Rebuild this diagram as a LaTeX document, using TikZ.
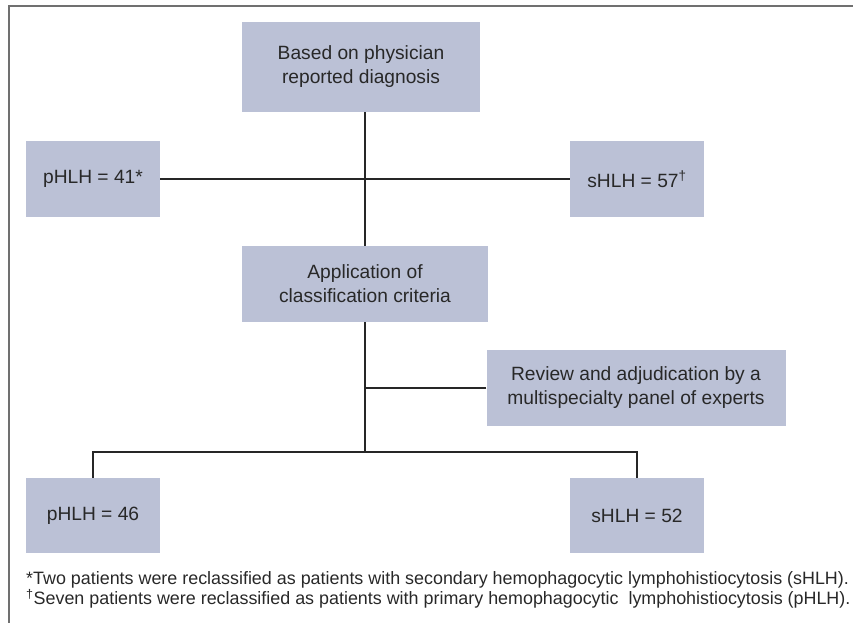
\documentclass[tikz,border=0pt]{standalone}
\usepackage{fontspec}
\setmainfont{Liberation Sans}
\usetikzlibrary{positioning}
\definecolor{boxfill}{RGB}{187,193,214}
\definecolor{boxtext}{RGB}{40,40,40}
\definecolor{framegray}{RGB}{112,112,112}
\begin{document}
\begin{tikzpicture}[x=1pt, y=-1pt,
		block/.style={rectangle, fill=boxfill, text=boxtext, align=center, inner sep=0pt,
			font=\fontsize{19.2}{24}\selectfont},
		link/.style={draw=black!85, line width=1.5pt}]
		
		\useasboundingbox (0,0) rectangle (853,623);
		\draw[framegray, line width=1.8pt] (9,623) -- (9,6) -- (853,6);
		
		\node[block, minimum width=238pt, minimum height=90pt] (diag) at (361, 67) {Based on physician\\reported diagnosis};
		
		\node[block, minimum width=134pt, minimum height=76pt] (p1) at (93, 179) {pHLH = 41*};
		\node[block, minimum width=134pt, minimum height=76pt] (s1) at (637, 179) {sHLH = 57\textsuperscript{†}};
		
		\node[block, minimum width=246pt, minimum height=76pt] (crit) at (365, 284) {Application of\\classification criteria};
		\node[block, minimum width=299pt, minimum height=76pt] (panel) at (636, 388) {Review and adjudication by a\\multispecialty panel of experts};
		
		\node[block, minimum width=134pt, minimum height=75pt] (p2) at (93, 515.5) {pHLH = 46};
		\node[block, minimum width=134pt, minimum height=75pt] (s2) at (637, 515.5) {sHLH = 52};
		
		\coordinate (split) at (365, 452);
		
		\draw[link] (diag.south -| crit.north) -- (crit.north);
		\draw[link] (p1.east) -- (s1.west);
		\draw[link] (crit.south) -- (split);
		\draw[link] (panel.west) -- (panel.west -| crit.south);
		\draw[link] (p2.north) |- (split) -| (s2.north);
		
		\node[anchor=west, align=left, text=boxtext, inner sep=0pt, font=\fontsize{17.9}{19.5}\selectfont] (notes) at (26, 590)
			{*Two patients were reclassified as patients with secondary hemophagocytic lymphohistiocytosis (sHLH).\\
			\textsuperscript{†}Seven patients were reclassified as patients with primary hemophagocytic\ \ lymphohistiocytosis (pHLH).};
		
	\end{tikzpicture}
\end{document}
